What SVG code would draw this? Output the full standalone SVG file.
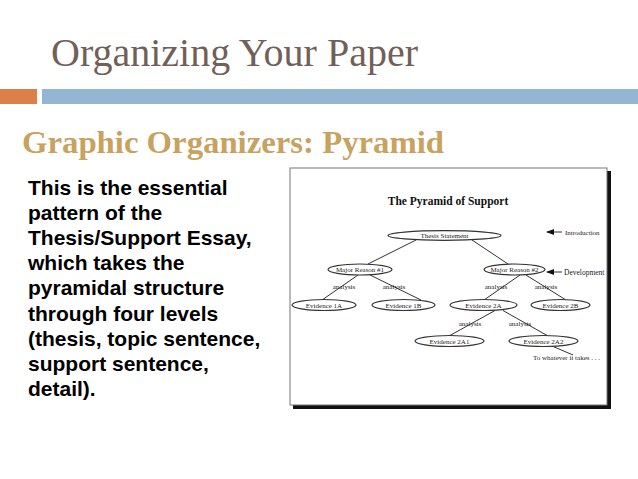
<svg xmlns="http://www.w3.org/2000/svg" width="638" height="479" viewBox="0 0 638 479">
<defs>
<style>
.title{font-family:"Liberation Serif",serif;font-size:40px;fill:#725f59}
.sub{font-family:"Liberation Serif",serif;font-size:32px;font-weight:bold;fill:#c8a25f}
.body{font-family:"Liberation Sans",Arial,sans-serif;font-size:21px;font-weight:bold;fill:#000}
.dt{font-family:"Liberation Serif",serif;font-size:11.5px;font-weight:bold;fill:#111}
.lbl{font-family:"Liberation Serif",serif;font-size:7px;fill:#222}
.node ellipse{fill:#fff;stroke:#333;stroke-width:1.2}
.node text{font-family:"Liberation Serif",serif;font-size:7px;fill:#222;text-anchor:middle}
.con line{stroke:#333;stroke-width:1}
</style>
<marker id="ah" markerWidth="8" markerHeight="6" refX="7" refY="3" orient="auto" markerUnits="userSpaceOnUse">
<path d="M0,0 L8,3 L0,6 z" fill="#111"/>
</marker>
</defs>
<rect width="638" height="479" fill="#fff"/>
<text class="title" x="51" y="66">Organizing Your Paper</text>
<rect x="0" y="89" width="37" height="15" fill="#dd8047"/>
<rect x="42" y="89" width="596" height="15" fill="#94b6d2"/>
<text class="sub" x="22" y="153" textLength="422" lengthAdjust="spacingAndGlyphs">Graphic Organizers: Pyramid</text>
<g class="body">
<text x="28" y="194.6">This is the essential</text>
<text x="28" y="219.8">pattern of the</text>
<text x="28" y="245">Thesis/Support Essay,</text>
<text x="28" y="270.2">which takes the</text>
<text x="28" y="295.4">pyramidal structure</text>
<text x="28" y="320.6">through four levels</text>
<text x="28" y="345.8">(thesis, topic sentence,</text>
<text x="28" y="371">support sentence,</text>
<text x="28" y="396.2">detail).</text>
</g>
<g id="frame">
<rect x="293" y="171" width="318" height="238" fill="#111"/>
<rect x="290" y="168" width="317" height="237" fill="#fff" stroke="#777" stroke-width="1"/>
<text class="dt" x="448" y="205" text-anchor="middle">The Pyramid of Support</text>
</g>
<g class="con" id="connectors">
<line x1="416" y1="240" x2="368" y2="264"/>
<line x1="472" y1="240" x2="508" y2="264"/>
<line x1="358" y1="275" x2="322" y2="300"/>
<line x1="370" y1="275" x2="421" y2="300"/>
<line x1="520" y1="275" x2="484" y2="300"/>
<line x1="526" y1="275" x2="566" y2="300"/>
<line x1="495" y1="310.5" x2="449" y2="336"/>
<line x1="503" y1="310.5" x2="548" y2="336"/>
<line x1="552" y1="346" x2="573" y2="355"/>
<line x1="562" y1="232" x2="547" y2="232" marker-end="url(#ah)"/>
<line x1="562" y1="272" x2="547" y2="272" marker-end="url(#ah)"/>
</g>
<g id="labels" class="lbl">
<text x="565" y="234.5">Introduction</text>
<text x="564" y="274.5" style="font-size:7.5px">Development</text>
<text x="344" y="289" text-anchor="middle">analysis</text>
<text x="394" y="289" text-anchor="middle">analysis</text>
<text x="496" y="289" text-anchor="middle">analysis</text>
<text x="546" y="289" text-anchor="middle">analysis</text>
<text x="470" y="326" text-anchor="middle">analysis</text>
<text x="520" y="326" text-anchor="middle">analysis</text>
<text x="533" y="360">To whatever it takes . . .</text>
</g>
<g class="node" id="thesis"><ellipse cx="444.5" cy="235.5" rx="56.5" ry="4.8"/><text x="444.5" y="238">Thesis Statement</text></g>
<g class="node" id="mr1"><ellipse cx="360" cy="269.5" rx="32" ry="5.5"/><text x="360" y="272">Major Reason #1</text></g>
<g class="node" id="mr2"><ellipse cx="514.5" cy="269.5" rx="30.5" ry="5.5"/><text x="514.5" y="272">Major Reason #2</text></g>
<g class="node" id="ev1a"><ellipse cx="324" cy="305" rx="32" ry="5.5"/><text x="324" y="307.5">Evidence  1A</text></g>
<g class="node" id="ev1b"><ellipse cx="403.5" cy="305" rx="31.5" ry="5.5"/><text x="403.5" y="307.5">Evidence 1B</text></g>
<g class="node" id="ev2a"><ellipse cx="483.5" cy="305" rx="33.5" ry="5.5"/><text x="483.5" y="307.5">Evidence 2A</text></g>
<g class="node" id="ev2b"><ellipse cx="560.5" cy="305" rx="29.5" ry="5.5"/><text x="560.5" y="307.5">Evidence 2B</text></g>
<g class="node" id="ev2a1"><ellipse cx="449.5" cy="341" rx="34.5" ry="5.5"/><text x="449.5" y="343.5">Evidence 2A1</text></g>
<g class="node" id="ev2a2"><ellipse cx="543.5" cy="341" rx="34.5" ry="5.5"/><text x="543.5" y="343.5">Evidence 2A2</text></g>
</svg>
